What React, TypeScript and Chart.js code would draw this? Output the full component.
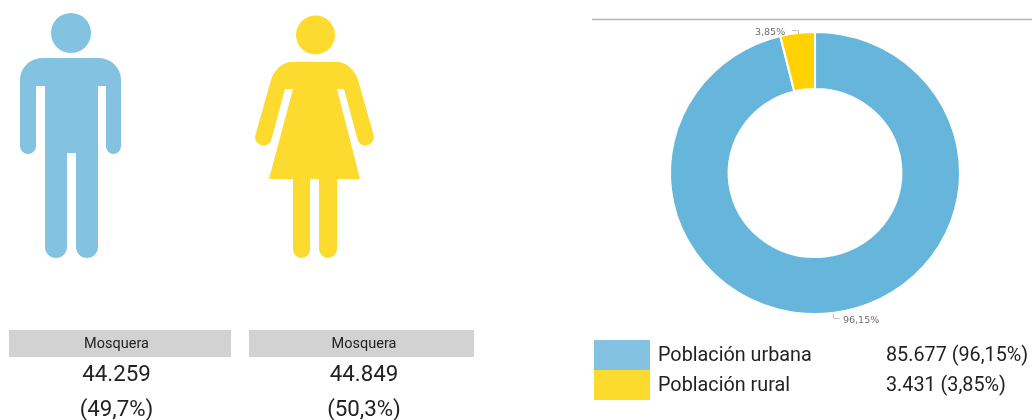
import React, { useEffect, useRef } from "react";
import { Chart, registerables } from "chart.js";

Chart.register(...registerables);

const categories = ["Población urbana", "Población rural"];
const values = [85677, 3431];
const valueLabels = ["85.677 (96,15%)", "3.431 (3,85%)"];
const sliceLabels = ["96,15%", "3,85%"];
const genderPlace = "Mosquera";
const genderCounts = ["44.259", "44.849"];
const genderShares = ["(49,7%)", "(50,3%)"];

const BLUE = "#66B5DB";
const YELLOW = "#FFD200";
const LEGEND_BLUE = "#83C2E1";
const LEGEND_YELLOW = "#FDDA2E";
const LABEL = "#6f6f6f";

const MAN =
  "M42 58H99A22 22 0 0 1 121 80V146A7.5 8 0 0 1 106 146V86H98V247A11 11 0 0 1 76 247V153H67V247A11 11 0 0 1 45 247V86H36V146A8 8 0 0 1 20 146V80A22 22 0 0 1 42 58Z";
const WOMAN =
  "M291 62H338C346 62 355 70 358 80L373 133A8 8 0 0 1 358 141L344 89H337L360 179H337V249A9 9 0 0 1 319 249V179H310V249.5A8.5 8.5 0 0 1 293 249.5V179H269L293 89H285L271 141A8 8 0 0 1 256 133L271 80C274 70 283 62 291 62Z";

// The reference ring is slightly wider than it is tall.
const ringStretch = {
  id: "ringStretch",
  beforeDatasetsDraw(chart: Chart) {
    const { ctx, chartArea } = chart;
    const cx = (chartArea.left + chartArea.right) / 2;
    ctx.save();
    ctx.translate(cx, 0);
    ctx.scale(144 / 140, 1);
    ctx.translate(-cx, 0);
  },
  afterDatasetsDraw(chart: Chart) {
    chart.ctx.restore();
  },
};

const sliceLabelPlugin = {
  id: "sliceLabels",
  afterDraw(chart: Chart) {
    const { ctx } = chart;
    ctx.save();
    ctx.strokeStyle = "#b4b4b4";
    ctx.lineWidth = 1.5;
    ctx.beginPath();
    ctx.moveTo(592, 19.5);
    ctx.lineTo(1032, 19.5);
    ctx.stroke();
    ctx.lineWidth = 1;
    ctx.strokeStyle = "#c4c4c4";
    ctx.beginPath();
    ctx.moveTo(792, 30.5);
    ctx.lineTo(798.5, 30.5);
    ctx.lineTo(798.5, 34);
    ctx.moveTo(833.5, 314);
    ctx.lineTo(833.5, 318.5);
    ctx.lineTo(840, 318.5);
    ctx.stroke();
    ctx.font = '9.5px "DejaVu Sans"';
    ctx.fillStyle = LABEL;
    ctx.textBaseline = "middle";
    ctx.textAlign = "left";
    ctx.fillText(sliceLabels[0], 843, 320.5);
    ctx.fillText(sliceLabels[1], 755, 32.5);
    ctx.restore();
  },
};

const abs = (left: number, top: number, width: number, height: number): React.CSSProperties => ({
  position: "absolute",
  left,
  top,
  width,
  height,
  lineHeight: `${height}px`,
  whiteSpace: "nowrap",
});

function GenderBlock({ left, width, center, index }: { left: number; width: number; center: number; index: number }) {
  const textBox = (top: number, height: number) => abs(center - 100, top, 200, height);
  return (
    <>
      <div style={{ ...abs(left, 330, width, 27), background: "#D2D2D2" }} />
      <div style={{ ...textBox(330, 27), textAlign: "center", fontSize: 14.5, color: "#222" }}>{genderPlace}</div>
      <div style={{ ...textBox(358, 30), textAlign: "center", fontSize: 22.3, color: "#222" }}>{genderCounts[index]}</div>
      <div style={{ ...textBox(393, 30), textAlign: "center", fontSize: 22.3, color: "#222" }}>{genderShares[index]}</div>
    </>
  );
}

export default function App() {
  const ref = useRef<HTMLCanvasElement>(null);

  useEffect(() => {
    document.body.style.margin = "0";
    const chart = new Chart(ref.current!, {
      type: "doughnut",
      data: {
        labels: categories,
        datasets: [
          {
            data: values,
            backgroundColor: [BLUE, YELLOW],
            borderColor: "#ffffff",
            borderWidth: 2,
          },
        ],
      },
      options: {
        animation: false,
        responsive: false,
        cutout: "59.6%",
        layout: { padding: { left: 673, right: 75, top: 31, bottom: 105 } },
        plugins: { legend: { display: false }, tooltip: { enabled: false } },
      },
      plugins: [ringStretch, sliceLabelPlugin],
    });
    return () => chart.destroy();
  }, []);

  return (
    <div style={{ position: "relative", width: 1032, height: 420, overflow: "hidden", fontFamily: "Roboto", background: "#fff" }}>
      <canvas ref={ref} width={1032} height={420} style={{ position: "absolute", left: 0, top: 0 }} />
      <svg width={1032} height={320} style={{ position: "absolute", left: 0, top: 0 }}>
        <circle cx={71} cy={33} r={20} fill={LEGEND_BLUE} />
        <path d={MAN} fill={LEGEND_BLUE} />
        <circle cx={315.5} cy={35} r={19.5} fill={LEGEND_YELLOW} />
        <path d={WOMAN} fill={LEGEND_YELLOW} />
      </svg>
      <GenderBlock left={9} width={222} center={116.5} index={0} />
      <GenderBlock left={249} width={225} center={364} index={1} />
      <div style={{ ...abs(594, 340, 56, 30), background: LEGEND_BLUE }} />
      <div style={{ ...abs(594, 370, 56, 30), background: LEGEND_YELLOW }} />
      {categories.map((c, i) => (
        <React.Fragment key={c}>
          <div style={{ ...abs(658, 340 + i * 30, 220, 29), fontSize: 19.8, color: "#222" }}>{c}</div>
          <div style={{ ...abs(886, 340 + i * 30, 146, 29), fontSize: 19.8, color: "#222" }}>{valueLabels[i]}</div>
        </React.Fragment>
      ))}
    </div>
  );
}
